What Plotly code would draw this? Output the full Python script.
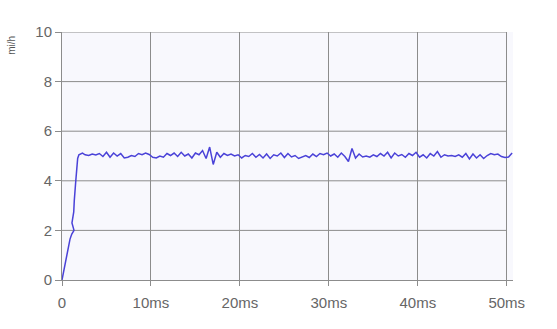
import plotly.graph_objects as go

# Ramp-up portion (time in ms, speed in mi/h)
rise_t = [0, 0.3, 0.6, 0.75, 0.9, 1.1, 1.35, 1.12, 1.22, 1.32, 1.38, 1.5, 1.55, 1.62, 1.7, 1.76, 1.9, 2.3]
rise_v = [0, 0.55, 1.05, 1.4, 1.65, 1.85, 2.0, 2.3, 2.6, 2.75, 3.2, 3.6, 4.0, 4.3, 4.6, 4.9, 5.05, 5.12]

# Steady portion
plateau_t = [2.6, 3.0, 3.4, 3.8, 4.2, 4.6, 5.0, 5.4, 5.8, 6.2,
             6.6, 7.0, 7.4, 7.8, 8.2, 8.6, 9.0, 9.4, 9.8, 10.2,
             10.6, 11.0, 11.4, 11.8, 12.2, 12.6, 13.0, 13.4, 13.8, 14.2,
             14.6, 15.0, 15.4, 15.8, 16.2, 16.6, 17.0, 17.4, 17.8, 18.2,
             18.6, 19.0, 19.4, 19.8, 20.2, 20.6, 21.0, 21.4, 21.8, 22.2,
             22.6, 23.0, 23.4, 23.8, 24.2, 24.6, 25.0, 25.4, 25.8, 26.2,
             26.6, 27.0, 27.4, 27.8, 28.2, 28.6, 29.0, 29.4, 29.8, 30.2,
             30.6, 31.0, 31.4, 31.8, 32.2, 32.6, 33.0, 33.4, 33.8, 34.2,
             34.6, 35.0, 35.4, 35.8, 36.2, 36.6, 37.0, 37.4, 37.8, 38.2,
             38.6, 39.0, 39.4, 39.8, 40.2, 40.6, 41.0, 41.4, 41.8, 42.2,
             42.6, 43.0, 43.4, 43.8, 44.2, 44.6, 45.0, 45.4, 45.8, 46.2,
             46.6, 47.0, 47.4, 47.8, 48.2, 48.6, 49.0, 49.4, 49.8, 50.2,
             50.6]
plateau_v = [5.05, 5.02, 5.08, 5.04, 5.10, 4.98, 5.15, 4.95, 5.12, 5.00,
             5.10, 4.92, 4.95, 5.02, 4.98, 5.10, 5.05, 5.12, 5.06, 4.95,
             4.92, 5.00, 4.95, 5.10, 5.02, 5.12, 4.98, 5.15, 5.00, 5.08,
             4.92, 5.12, 5.05, 5.22, 4.90, 5.36, 4.66, 5.15, 4.95, 5.10,
             5.02, 5.08, 5.00, 5.05, 4.92, 5.02, 4.98, 5.10, 4.95, 5.06,
             4.92, 5.08, 4.90, 5.05, 5.00, 5.12, 4.94, 5.10, 4.96, 5.02,
             4.90, 4.95, 5.02, 4.94, 5.08, 4.98, 5.10, 5.05, 5.12, 5.00,
             5.08, 4.95, 5.12, 4.98, 4.78, 5.30, 4.92, 5.08, 4.96, 5.00,
             4.95, 5.05, 4.98, 5.10, 5.00, 5.15, 4.92, 5.12, 5.00, 5.06,
             4.95, 5.10, 5.02, 5.15, 4.95, 5.05, 4.92, 5.10, 5.00, 5.18,
             4.95, 5.05, 5.00, 5.02, 4.98, 5.05, 4.95, 5.10, 4.88, 5.08,
             4.92, 5.05, 4.90, 5.02, 5.10, 5.05, 5.08, 4.98, 4.94, 4.96,
             5.12]

x_tickvals = [0, 10, 20, 30, 40, 50]
x_ticktext = ["0", "10ms", "20ms", "30ms", "40ms", "50ms"]
y_tickvals = [0, 2, 4, 6, 8, 10]
y_unit = "mi/h"

time_ms = rise_t + plateau_t
speed = rise_v + plateau_v

grid_col = "#8c8c8c"
fig = go.Figure()
fig.add_trace(go.Scatter(x=time_ms, y=speed, mode="lines",
                         line=dict(color="#4a42d8", width=1.5),
                         hoverinfo="skip", showlegend=False))

shapes = []
for yv in y_tickvals[1:]:
    shapes.append(dict(type="line", xref="x", yref="y", x0=0, x1=x_tickvals[-1],
                       y0=yv, y1=yv, line=dict(color=grid_col, width=1), layer="below"))

fig.update_layout(
    width=557, height=329,
    margin=dict(l=62, r=44, t=32, b=49),
    paper_bgcolor="#ffffff",
    plot_bgcolor="#f8f8fd",
    font=dict(family="Liberation Sans, Arial, sans-serif", size=15, color="#666666"),
    shapes=shapes,
    xaxis=dict(range=[0, 50.7], tickvals=x_tickvals, ticktext=x_ticktext,
               showgrid=True, gridcolor=grid_col, gridwidth=1,
               showline=True, linecolor=grid_col, linewidth=1,
               ticks="outside", ticklen=5, tickcolor=grid_col,
               ticklabelstandoff=4,
               zeroline=False, fixedrange=True),
    yaxis=dict(range=[0, 10], tickvals=y_tickvals, showgrid=False,
               showline=True, linecolor=grid_col, linewidth=1,
               ticks="outside", ticklen=6, tickcolor=grid_col,
               zeroline=False, fixedrange=True),
    annotations=[dict(text=y_unit, xref="paper", yref="paper",
                      x=-0.111, y=0.948, xanchor="center", yanchor="middle",
                      textangle=-90, showarrow=False,
                      font=dict(size=10, color="#555555"))],
)

fig.write_html("out.html", config={"displayModeBar": False})
